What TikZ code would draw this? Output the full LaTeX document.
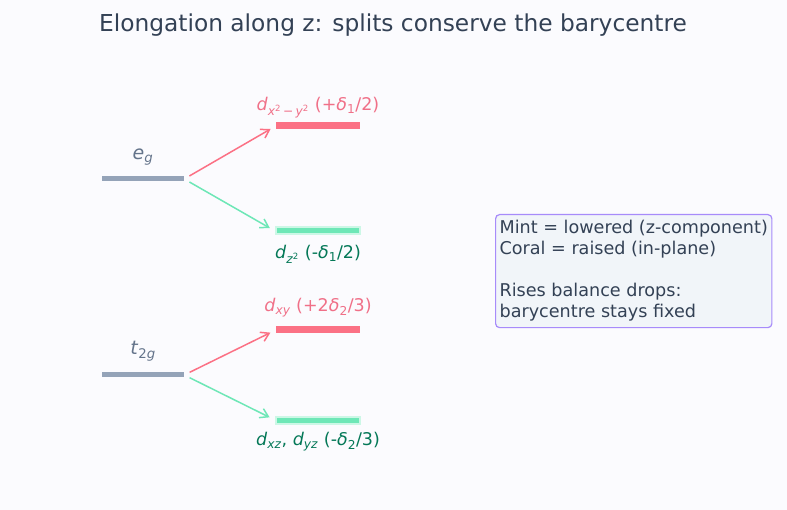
\documentclass[tikz,border=0pt]{standalone}
\usepackage{fontspec}
\setmainfont{DejaVu Sans}
\usepackage{xcolor}
\usepackage{tikz}
\usetikzlibrary{arrows.meta, positioning}
\definecolor{bgpaper}{HTML}{FBFBFE}
\definecolor{titlegray}{HTML}{334155}
\definecolor{levelgray}{HTML}{94A3B8}
\definecolor{labelgray}{HTML}{64748B}
\definecolor{coral}{HTML}{FB7185}
\definecolor{coraltext}{HTML}{F07088}
\definecolor{mint}{HTML}{6EE7B7}
\definecolor{minttext}{HTML}{047857}
\definecolor{boxedge}{HTML}{A78BFA}
\definecolor{boxfill}{HTML}{F1F5F9}
\newcommand{\dorb}[1]{\textit{d}\textsubscript{#1}}
\newcommand{\sdelta}[1]{\textit{δ}\textsubscript{#1}}
\tikzset{
  parent/.style={
    rectangle, inner sep=0pt,
    minimum width=82pt, minimum height=5pt,
    fill=levelgray,
  },
  raised/.style={
    rectangle, inner sep=0pt,
    minimum width=84pt, minimum height=7pt,
    fill=coral,
  },
  lowered/.style={
    rectangle, inner sep=0pt,
    minimum width=84pt, minimum height=7pt,
    fill=mint, draw=mint!35, line width=2pt,
  },
  parentlabel/.style={font=\fontsize{19}{22}\selectfont, text=labelgray, inner sep=1pt},
  uplabel/.style={font=\fontsize{17.5}{20}\selectfont, text=coraltext, inner sep=1pt},
  downlabel/.style={font=\fontsize{17.5}{20}\selectfont, text=minttext, inner sep=1pt},
  uparrow/.style={-{Straight Barb[length=8pt, width=10pt]}, line width=1.5pt, color=coral, shorten <=6pt, shorten >=6pt},
  downarrow/.style={-{Straight Barb[length=8pt, width=10pt]}, line width=1.5pt, color=mint, shorten <=6pt, shorten >=6pt},
  legend/.style={
    rectangle, rounded corners=4pt, draw=boxedge, fill=boxfill, line width=1.2pt,
    align=left, inner xsep=4pt, inner ysep=6pt, text=titlegray,
    font=\fontsize{17.6}{21}\selectfont,
  },
}

\begin{document}
\begin{tikzpicture}[x=1pt, y=-1pt]

  \fill[bgpaper] (0,0) rectangle (787,510);

  \node[font=\fontsize{23.3}{27}\selectfont, text=titlegray] (title) at (393,25) {Elongation along z: splits conserve the barycentre};

  % e_g block
  \node[parent] (eg) at (143,179) {};
  \node[parentlabel, above=10pt of eg] (eglabel) {\textit{e}\textsubscript{\textit{g}}};
  \node[raised] (dx2y2) at (318,126) {};
  \node[uplabel, above=3pt of dx2y2] (dx2y2label) {\dorb{\textit{x}\textsuperscript{2}\,−\,\textit{y}\textsuperscript{2}} (+\sdelta{1}/2)};
  \node[lowered] (dz2) at (318,231) {};
  \node[downlabel, below=9pt of dz2] (dz2label) {\dorb{\textit{z}\textsuperscript{2}} (-\sdelta{1}/2)};

  \draw[uparrow] (eg.east) -- (dx2y2.west);
  \draw[downarrow] (eg.east) -- (dz2.west);

  % t_2g block
  \node[parent] (t2g) at (143,375) {};
  \node[parentlabel, above=10pt of t2g] (t2glabel) {\textit{t}\textsubscript{2\textit{g}}};
  \node[raised] (dxy) at (318,330) {};
  \node[uplabel, above=8pt of dxy] (dxylabel) {\dorb{\textit{xy}} (+2\sdelta{2}/3)};
  \node[lowered] (dxzyz) at (318,420) {};
  \node[downlabel, below=7pt of dxzyz] (dxzyzlabel) {\dorb{\textit{xz}}, \dorb{\textit{yz}} (-\sdelta{2}/3)};

  \draw[uparrow] (t2g.east) -- (dxy.west);
  \draw[downarrow] (t2g.east) -- (dxzyz.west);

  \node[legend, anchor=north west] (key) at (495,214) {Mint = lowered (z-component)\\Coral = raised (in-plane)\\[21pt]Rises balance drops:\\barycentre stays fixed};

\end{tikzpicture}
\end{document}
